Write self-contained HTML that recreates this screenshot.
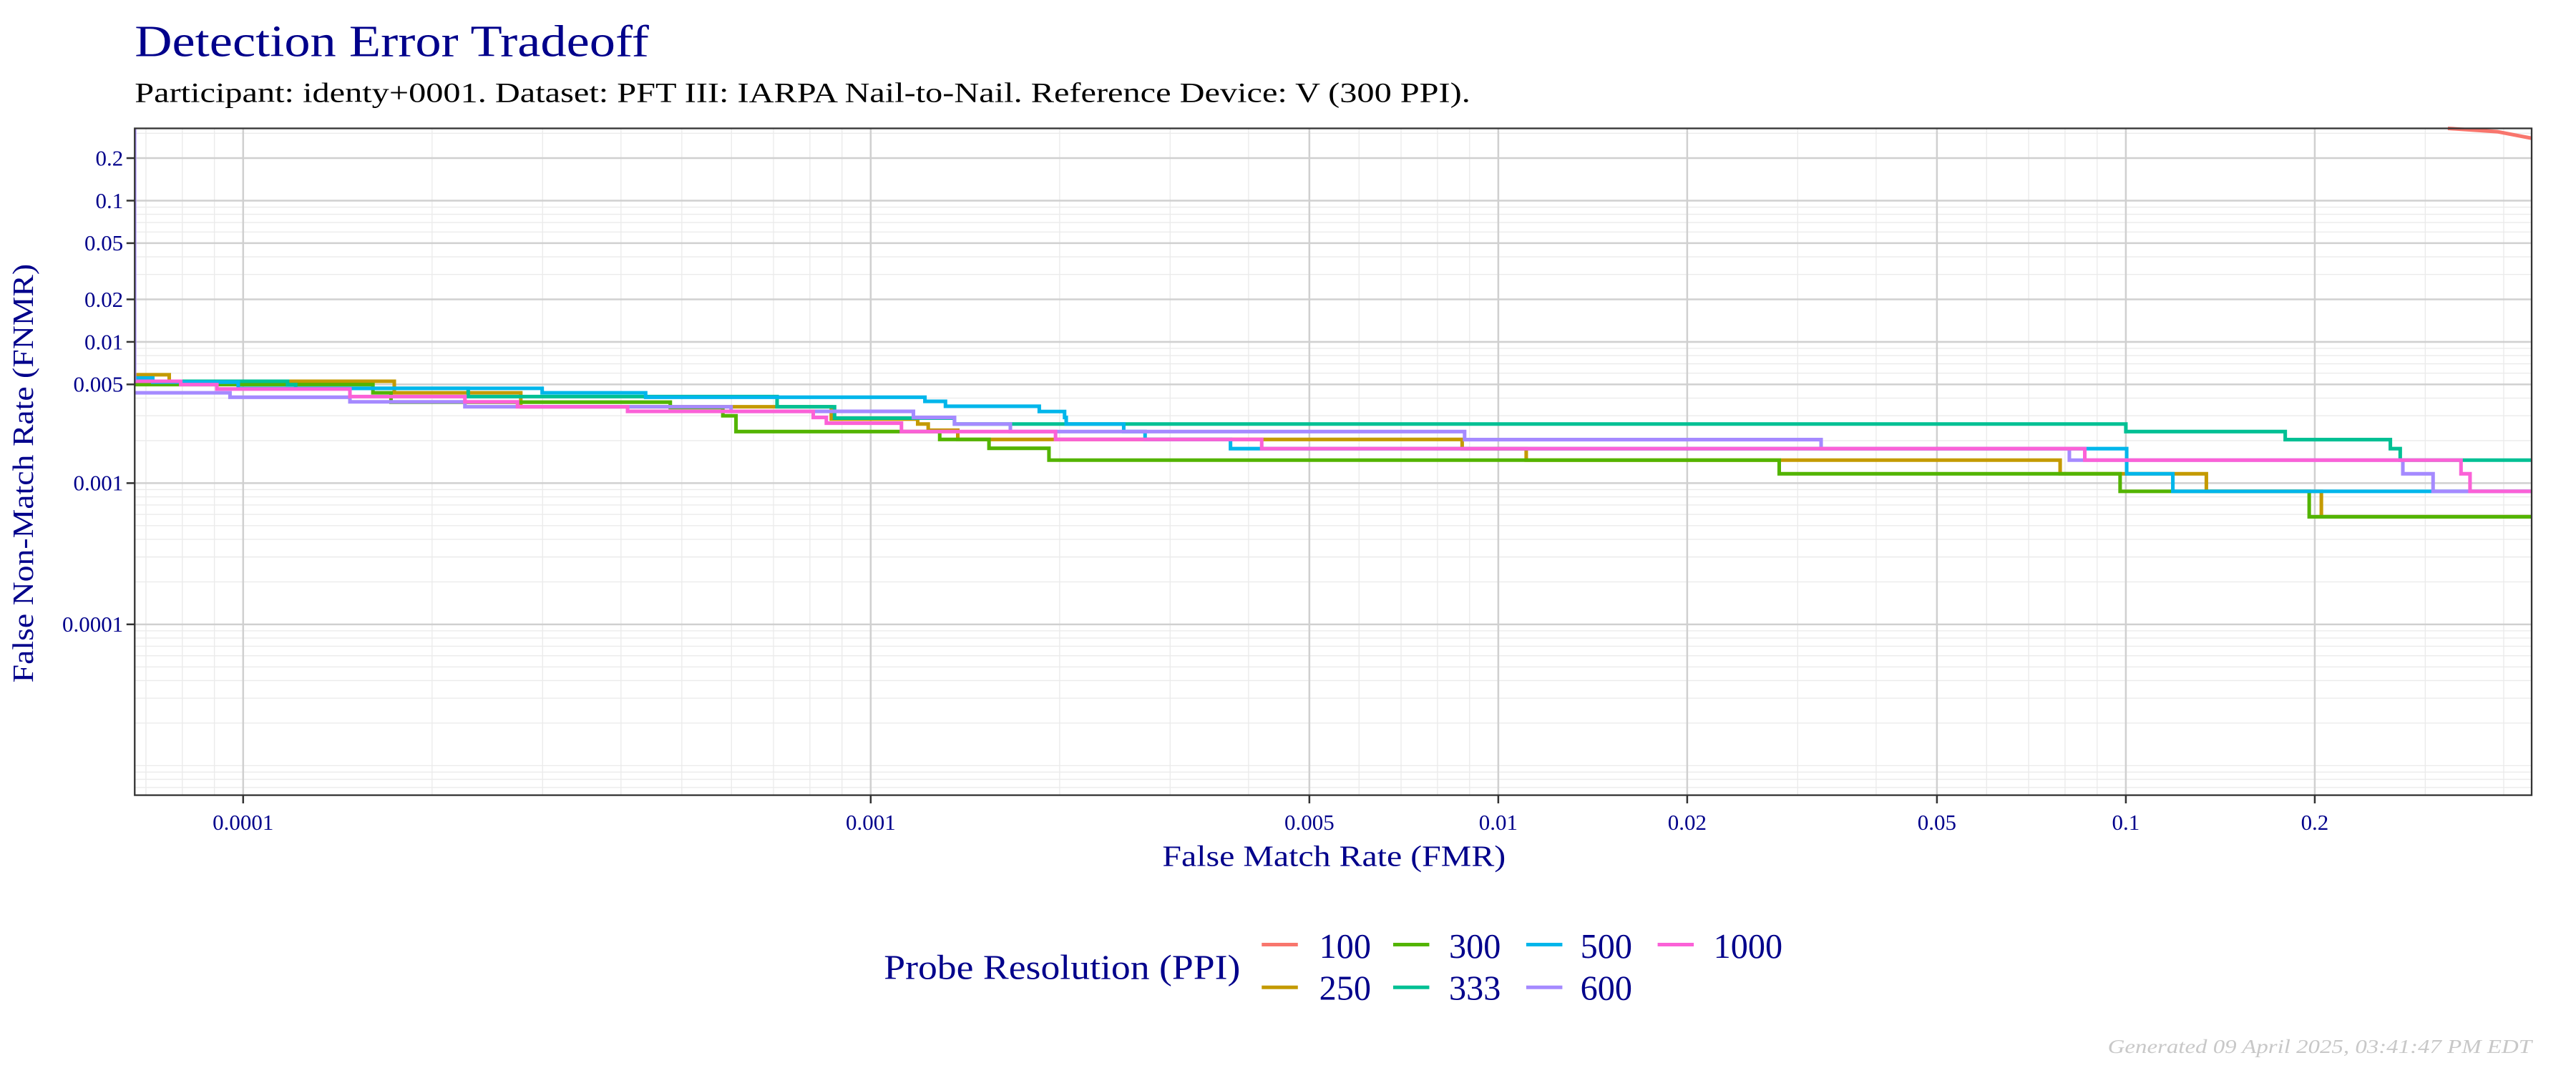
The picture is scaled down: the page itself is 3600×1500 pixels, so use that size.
<!DOCTYPE html>
<html><head><meta charset="utf-8"><style>
html,body{margin:0;padding:0;background:#fff;}
svg{display:block;}
text{font-family:"Liberation Serif",serif;}
</style></head><body>
<svg id="s" width="3600" height="1500" viewBox="0 0 1568 653" xmlns="http://www.w3.org/2000/svg">
<rect width="1568" height="653" fill="#fff"/>
<text x="82" y="34" font-size="27" fill="#00008B" textLength="313" lengthAdjust="spacingAndGlyphs">Detection Error Tradeoff</text>
<text x="82" y="62" font-size="17" fill="#000" textLength="813" lengthAdjust="spacingAndGlyphs">Participant: identy+0001. Dataset: PFT III: IARPA Nail-to-Nail. Reference Device: V (300 PPI).</text>
<g id="grid"></g>
<g fill="none" stroke-width="2.2" stroke-linejoin="miter">
<path stroke="#F8766D" d="M1490 78 L1520 80 L1541 84"/>
<path stroke="#C49A00" d="M82 228 H103 V232 H240 V239 H317 V247.5 H506 V255 H558.6 V258 H565 V261.8 H583 V267.4 H890 V273 H929 V280 H1254 V288.3 H1343 V299 H1413 V314.5 H1541"/>
<path stroke="#53B400" d="M82 234 H227 V239 H238 V244.7 H408 V248 H440 V253 H448 V262.6 H572 V267.4 H602 V272.8 H638.5 V280 H1083 V288.3 H1290.5 V299 H1405.6 V314.5 H1541"/>
<path stroke="#00C094" d="M82 232 H175 V234 H180 V236.3 H285 V241.3 H473 V247.5 H508 V254.4 H581 V258 H1294 V262.6 H1391 V267.5 H1455 V273 H1461 V280 H1541"/>
<path stroke="#00B6EB" d="M82 230 H93 V232.5 H145 V236.3 H330 V239 H393 V241.7 H563 V244.2 H575.5 V247.2 H632.6 V250.4 H648 V254 H649 V258 H684 V262.6 H697 V267.4 H749 V273 H1294.5 V288.3 H1322.6 V299 H1541"/>
<path stroke="#A58AFF" d="M82 239 H140 V241.7 H213 V244.5 H283 V247.5 H445 V250.3 H556 V254 H581 V258 H615 V262.6 H891.5 V267.5 H1108.5 V273 H1259.6 V280 H1462.6 V288.3 H1481 V299 H1541"/>
<path stroke="#FB61D7" d="M82 232 H110 V234 H132 V236.7 H213 V241.3 H283 V244.5 H315 V247.5 H382 V250.3 H495 V254 H503 V257.5 H548.7 V262.6 H642.5 V267.4 H768 V273 H1269 V280 H1498 V288.3 H1503.5 V299 H1541"/>
<path stroke="#A58AFF" stroke-width="1" d="M82.5 78 V232"/>
</g>
<rect x="82" y="78" width="1459" height="406" fill="none" stroke="#333" stroke-width="1"/>
<g id="ticks"></g>
<text x="812" y="527" font-size="18" fill="#00008B" text-anchor="middle" textLength="209" lengthAdjust="spacingAndGlyphs">False Match Rate (FMR)</text>
<text transform="translate(20,288) rotate(-90)" font-size="18" fill="#00008B" text-anchor="middle" textLength="255" lengthAdjust="spacingAndGlyphs">False Non-Match Rate (FNMR)</text>
<text x="538" y="596" font-size="21" fill="#00008B" textLength="217" lengthAdjust="spacingAndGlyphs">Probe Resolution (PPI)</text>
<g stroke-width="2.2">
<line x1="768" y1="575" x2="790" y2="575" stroke="#F8766D"/>
<line x1="768" y1="601" x2="790" y2="601" stroke="#C49A00"/>
<line x1="848" y1="575" x2="870" y2="575" stroke="#53B400"/>
<line x1="848" y1="601" x2="870" y2="601" stroke="#00C094"/>
<line x1="929" y1="575" x2="951" y2="575" stroke="#00B6EB"/>
<line x1="929" y1="601" x2="951" y2="601" stroke="#A58AFF"/>
<line x1="1009" y1="575" x2="1031" y2="575" stroke="#FB61D7"/>
</g>
<g font-size="21" fill="#00008B">
<text x="803" y="583">100</text><text x="803" y="608.5">250</text>
<text x="882" y="583">300</text><text x="882" y="608.5">333</text>
<text x="962" y="583">500</text><text x="962" y="608.5">600</text>
<text x="1043" y="583">1000</text>
</g>
<text x="1541" y="641" font-size="12" fill="#c8c8c8" font-style="italic" text-anchor="end" textLength="258" lengthAdjust="spacingAndGlyphs">Generated 09 April 2025, 03:41:47 PM EDT</text>
</svg>
<script>
(function(){
var NS="http://www.w3.org/2000/svg";
var g=document.getElementById("grid"),t=document.getElementById("ticks");
function X(v){return 148+382*(Math.log10(v)+4);}
function Y(v){return 380-86*(Math.log10(v)+4);}
function ln(p,a,c,w){var l=document.createElementNS(NS,"line");for(var k in a)l.setAttribute(k,a[k]);l.setAttribute("stroke",c);l.setAttribute("stroke-width",w);p.appendChild(l);}
function tx(p,x,y,s,anc){var e=document.createElementNS(NS,"text");e.setAttribute("x",x);e.setAttribute("y",y);e.setAttribute("font-size","13.5");e.setAttribute("fill","#00008B");e.setAttribute("text-anchor",anc);e.textContent=s;p.appendChild(e);}
for(var d=-6;d<=0;d++)for(var k=1;k<10;k++){var v=k*Math.pow(10,d);
 var x=X(v);if(x>82&&x<1541)ln(g,{x1:x,x2:x,y1:78,y2:484},"#ebebeb",0.6);
 var y=Y(v);if(y>78&&y<484)ln(g,{x1:82,x2:1541,y1:y,y2:y},"#ebebeb",0.6);}
var xt=[[0.0001,"0.0001"],[0.001,"0.001"],[0.005,"0.005"],[0.01,"0.01"],[0.02,"0.02"],[0.05,"0.05"],[0.1,"0.1"],[0.2,"0.2"]];
xt.forEach(function(a){var x=X(a[0]);ln(g,{x1:x,x2:x,y1:78,y2:484},"#d0d0d0",1.1);ln(t,{x1:x,x2:x,y1:484,y2:489},"#333",1.1);tx(t,x,505,a[1],"middle");});
var yt=[[0.2,"0.2"],[0.1,"0.1"],[0.05,"0.05"],[0.02,"0.02"],[0.01,"0.01"],[0.005,"0.005"],[0.001,"0.001"],[0.0001,"0.0001"]];
yt.forEach(function(a){var y=Y(a[0]);ln(g,{x1:82,x2:1541,y1:y,y2:y},"#d0d0d0",1.1);ln(t,{x1:77,x2:82,y1:y,y2:y},"#333",1.1);tx(t,75,y+4.5,a[1],"end");});
})();
</script>
</body></html>
